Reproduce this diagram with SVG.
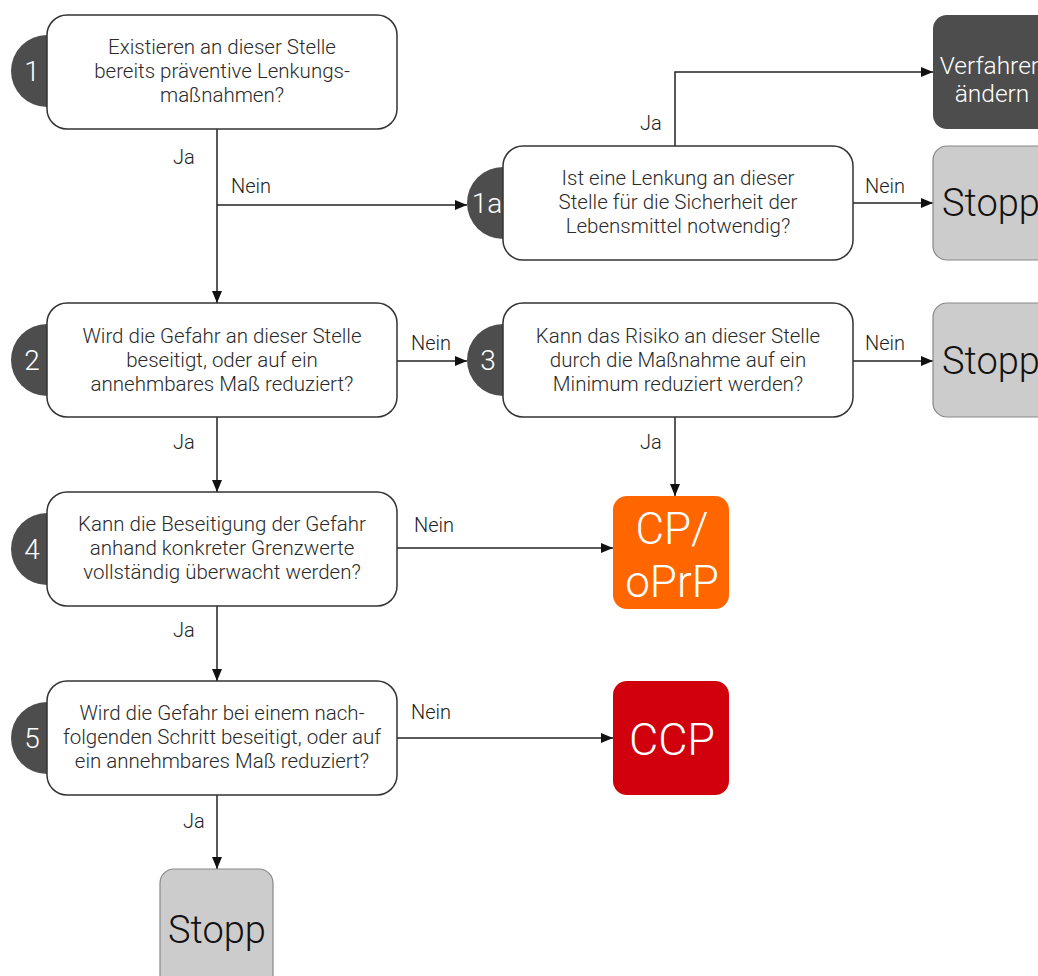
<svg xmlns="http://www.w3.org/2000/svg" width="1038" height="976" viewBox="0 0 1038 976">
<style>
.q{fill:#fff;stroke:#333;stroke-width:1.5}
.badge{fill:#4d4d4d}
.num{font-family:Roboto,"Liberation Sans",sans-serif;font-weight:300;font-size:28px;fill:#fff;text-anchor:middle}
.qt{font-family:Roboto,"Liberation Sans",sans-serif;font-weight:300;font-size:20.5px;fill:#2a2a2a;text-anchor:middle}
.lbl{font-family:Roboto,"Liberation Sans",sans-serif;font-weight:300;font-size:20px;fill:#222}
.stop{fill:#cccccc;stroke:#888;stroke-width:1.2}
.stopt{font-family:Roboto,"Liberation Sans",sans-serif;font-weight:300;font-size:38px;fill:#111;text-anchor:middle}
.big{font-family:Roboto,"Liberation Sans",sans-serif;font-weight:300;fill:#fff;text-anchor:middle}
.c{fill:none;stroke:#222;stroke-width:1.5}
</style>
<defs>
<marker id="a" viewBox="0 0 12 10" refX="12" refY="5" markerWidth="12" markerHeight="10" markerUnits="userSpaceOnUse" orient="auto">
<path d="M0,0 L12,5 L0,10 Z" fill="#111"/>
</marker>
</defs>
<rect width="1038" height="976" fill="#fff"/>
<g id="connectors">
<path class="c" d="M217,129 V303" marker-end="url(#a)"/>
<path class="c" d="M217,205 H467" marker-end="url(#a)"/>
<path class="c" d="M675,146 V72 H933" marker-end="url(#a)"/>
<path class="c" d="M853,203 H933" marker-end="url(#a)"/>
<path class="c" d="M397,361 H467" marker-end="url(#a)"/>
<path class="c" d="M853,361 H933" marker-end="url(#a)"/>
<path class="c" d="M675,417 V496" marker-end="url(#a)"/>
<path class="c" d="M217,417 V492" marker-end="url(#a)"/>
<path class="c" d="M397,548 H613" marker-end="url(#a)"/>
<path class="c" d="M217,606 V681" marker-end="url(#a)"/>
<path class="c" d="M397,738 H613" marker-end="url(#a)"/>
<path class="c" d="M217,795 V869" marker-end="url(#a)"/>
<text class="lbl" x="173" y="164">Ja</text>
<text class="lbl" x="231" y="193">Nein</text>
<text class="lbl" x="640" y="130">Ja</text>
<text class="lbl" x="865" y="193">Nein</text>
<text class="lbl" x="411" y="350">Nein</text>
<text class="lbl" x="865" y="350">Nein</text>
<text class="lbl" x="173" y="449">Ja</text>
<text class="lbl" x="640" y="449">Ja</text>
<text class="lbl" x="414" y="532">Nein</text>
<text class="lbl" x="173" y="637">Ja</text>
<text class="lbl" x="411" y="719">Nein</text>
<text class="lbl" x="183" y="828">Ja</text>
</g>
<g id="n1">
<circle class="badge" cx="47" cy="71" r="36"/>
<rect class="q" x="47" y="15" width="350" height="114" rx="20"/>
<text class="num" x="32" y="81">1</text>
<text class="qt" x="222" y="54">Existieren an dieser Stelle</text>
<text class="qt" x="222" y="78">bereits präventive Lenkungs-</text>
<text class="qt" x="222" y="102">maßnahmen?</text>
</g>
<g id="n1a">
<circle class="badge" cx="503" cy="203" r="36"/>
<rect class="q" x="503" y="146" width="350" height="114" rx="20"/>
<text class="num" x="487" y="213">1a</text>
<text class="qt" x="678" y="185">Ist eine Lenkung an dieser</text>
<text class="qt" x="678" y="209">Stelle für die Sicherheit der</text>
<text class="qt" x="678" y="233">Lebensmittel notwendig?</text>
</g>
<g id="verfahren">
<rect x="933" y="15" width="125" height="114" rx="14" fill="#4d4d4d"/>
<text class="big" x="992" y="74" font-size="24.5">Verfahren</text>
<text class="big" x="992" y="102" font-size="24.5">ändern</text>
</g>
<g id="stopp1a">
<rect class="stop" x="933" y="146" width="125" height="114" rx="14"/>
<text class="stopt" x="991" y="216">Stopp</text>
</g>
<g id="n2">
<circle class="badge" cx="47" cy="360" r="36"/>
<rect class="q" x="47" y="303" width="350" height="114" rx="20"/>
<text class="num" x="32" y="370">2</text>
<text class="qt" x="222" y="343">Wird die Gefahr an dieser Stelle</text>
<text class="qt" x="222" y="367">beseitigt, oder auf ein</text>
<text class="qt" x="222" y="391">annehmbares Maß reduziert?</text>
</g>
<g id="n3">
<circle class="badge" cx="503" cy="360" r="36"/>
<rect class="q" x="503" y="303" width="350" height="114" rx="20"/>
<text class="num" x="488" y="370">3</text>
<text class="qt" x="678" y="343">Kann das Risiko an dieser Stelle</text>
<text class="qt" x="678" y="367">durch die Maßnahme auf ein</text>
<text class="qt" x="678" y="391">Minimum reduziert werden?</text>
</g>
<g id="stopp3">
<rect class="stop" x="933" y="303" width="125" height="114" rx="14"/>
<text class="stopt" x="991" y="374">Stopp</text>
</g>
<g id="n4">
<circle class="badge" cx="47" cy="549" r="36"/>
<rect class="q" x="47" y="492" width="350" height="114" rx="20"/>
<text class="num" x="32" y="559">4</text>
<text class="qt" x="222" y="531">Kann die Beseitigung der Gefahr</text>
<text class="qt" x="222" y="555">anhand konkreter Grenzwerte</text>
<text class="qt" x="222" y="579">vollständig überwacht werden?</text>
</g>
<g id="cp">
<rect x="613" y="496" width="116" height="113" rx="14" fill="#ff6600"/>
<text class="big" x="672" y="544" font-size="44">CP/</text>
<text class="big" x="672" y="597" font-size="44">oPrP</text>
</g>
<g id="n5">
<circle class="badge" cx="47" cy="738" r="36"/>
<rect class="q" x="47" y="681" width="350" height="114" rx="20"/>
<text class="num" x="32" y="748">5</text>
<text class="qt" x="222" y="720">Wird die Gefahr bei einem nach-</text>
<text class="qt" x="222" y="744">folgenden Schritt beseitigt, oder auf</text>
<text class="qt" x="222" y="768">ein annehmbares Maß reduziert?</text>
</g>
<g id="ccp">
<rect x="613" y="681" width="116" height="114" rx="14" fill="#d0000c"/>
<text class="big" x="672" y="755" font-size="45">CCP</text>
</g>
<g id="stopp5">
<rect class="stop" x="160" y="869" width="113" height="125" rx="14"/>
<text class="stopt" x="217" y="943">Stopp</text>
</g>
</svg>
